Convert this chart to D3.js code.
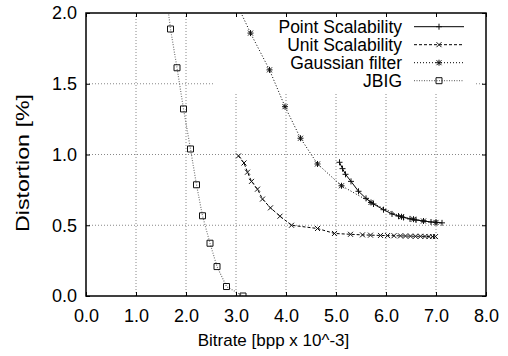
<!DOCTYPE html>
<html>
<head>
<meta charset="utf-8">
<script src="https://cdn.jsdelivr.net/npm/d3@7/dist/d3.min.js"></script>
<style>
  html, body { margin: 0; padding: 0; background: #fff; }
  svg { display: block; font-family: "Liberation Sans", Arial, Helvetica, sans-serif; }
</style>
</head>
<body>
<div id="chart"></div>
<script>
// ── Data ──────────────────────────────────────────────────────────────────────
const xTicks = [0, 1, 2, 3, 4, 5, 6, 7, 8];
const yTicks = [0, 0.5, 1, 1.5, 2];

const seriesNames = ['Point Scalability', 'Unit Scalability', 'Gaussian filter', 'JBIG'];

const pointScal = [
  [5.07, 0.945], [5.13, 0.90], [5.19, 0.86], [5.30, 0.81], [5.45, 0.74],
  [5.60, 0.69], [5.75, 0.65], [5.95, 0.61], [6.12, 0.58], [6.25, 0.565],
  [6.35, 0.555], [6.48, 0.545], [6.60, 0.537], [6.75, 0.53], [6.90, 0.523],
  [7.00, 0.52], [7.12, 0.517]
];

const unitScal = [
  [3.05, 0.99], [3.16, 0.94], [3.23, 0.875], [3.31, 0.81], [3.43, 0.755],
  [3.53, 0.685], [3.69, 0.623], [3.88, 0.564], [4.11, 0.50], [4.63, 0.477],
  [4.97, 0.442], [5.29, 0.436], [5.53, 0.432], [5.69, 0.43], [5.89, 0.428],
  [6.03, 0.427], [6.16, 0.426], [6.29, 0.425], [6.39, 0.424], [6.49, 0.423],
  [6.59, 0.422], [6.69, 0.422], [6.78, 0.421], [6.86, 0.42], [6.93, 0.42],
  [6.99, 0.42]
];

const gaussian = [
  [2.97, 2.10], [3.29, 1.858], [3.67, 1.598], [3.98, 1.338], [4.29, 1.115],
  [4.63, 0.933], [5.11, 0.779], [5.70, 0.661], [6.31, 0.56], [6.55, 0.543],
  [6.75, 0.53], [7.00, 0.52]
];

const jbig = [
  [1.58, 2.20], [1.69, 1.887], [1.82, 1.613], [1.95, 1.322], [2.09, 1.039],
  [2.21, 0.786], [2.33, 0.567], [2.48, 0.373], [2.62, 0.208], [2.81, 0.067],
  [3.14, 0.0]
];

// ── Layout ────────────────────────────────────────────────────────────────────
const W = 508, H = 356;
const M = { top: 13, right: 22, bottom: 60, left: 86 };
const iw = W - M.left - M.right;
const ih = H - M.top - M.bottom;

const x = d3.scaleLinear().domain([0, 8]).range([0, iw]);
const y = d3.scaleLinear().domain([0, 2]).range([ih, 0]);

const svg = d3.select('#chart').append('svg').attr('width', W).attr('height', H);
const g = svg.append('g').attr('transform', `translate(${M.left},${M.top})`);

svg.append('defs').append('clipPath').attr('id', 'plot-clip')
  .append('rect').attr('width', iw).attr('height', ih);

// ── Grid ──────────────────────────────────────────────────────────────────────
const grid = g.append('g').attr('stroke', '#888').attr('stroke-width', 1)
  .attr('stroke-dasharray', '1,2');
grid.selectAll('.gx').data(xTicks.slice(1, -1)).join('line')
  .attr('x1', d => x(d)).attr('x2', d => x(d)).attr('y1', 0).attr('y2', ih);
grid.selectAll('.gy').data(yTicks.slice(1, -1)).join('line')
  .attr('y1', d => y(d)).attr('y2', d => y(d)).attr('x1', 0).attr('x2', iw);

// legend box hides the grid behind it
g.append('rect')
  .attr('x', 128).attr('y', 0).attr('width', 262).attr('height', 80)
  .attr('fill', '#fff');

// ── Series ────────────────────────────────────────────────────────────────────
const markers = {
  plus:   'M-3,0H3M0,-3V3',
  cross:  'M-2.5,-2.5L2.5,2.5M-2.5,2.5L2.5,-2.5',
  star:   'M-3,0H3M0,-3V3M-2.5,-2.5L2.5,2.5M-2.5,2.5L2.5,-2.5',
  square: 'M-3,-3H3V3H-3Z'
};

const series = [
  { name: seriesNames[0], data: pointScal, stroke: '#000', dash: null,    width: 1,   marker: 'plus' },
  { name: seriesNames[1], data: unitScal,  stroke: '#000', dash: '3,2',   width: 1,   marker: 'cross' },
  { name: seriesNames[2], data: gaussian,  stroke: '#000', dash: '1,2',   width: 1,   marker: 'star' },
  { name: seriesNames[3], data: jbig,      stroke: '#777', dash: '1,1.5', width: 1.2, marker: 'square' }
];

const line = d3.line().x(d => x(d[0])).y(d => y(d[1]));
const plot = g.append('g').attr('clip-path', 'url(#plot-clip)');

series.slice().reverse().forEach(s => {
  plot.append('path').datum(s.data)
    .attr('d', line).attr('fill', 'none')
    .attr('stroke', s.stroke).attr('stroke-width', s.width)
    .attr('stroke-dasharray', s.dash);
  plot.selectAll(null).data(s.data).join('path')
    .attr('transform', d => `translate(${x(d[0])},${y(d[1])})`)
    .attr('d', markers[s.marker])
    .attr('fill', 'none').attr('stroke', '#111').attr('stroke-width', 1);
});

// ── Axes + frame ──────────────────────────────────────────────────────────────
const fmt = d3.format('.1f');
const styleAxis = a => {
  a.select('.domain').remove();
  a.selectAll('line').attr('stroke', '#000').attr('stroke-width', 1);
  a.selectAll('text').attr('fill', '#000').attr('font-size', 18)
    .attr('font-family', '"Liberation Sans", Arial, Helvetica, sans-serif');
};

g.append('g').attr('transform', `translate(0,${ih})`)
  .call(d3.axisBottom(x).tickValues(xTicks).tickSize(-4).tickPadding(13).tickFormat(fmt))
  .call(styleAxis);
g.append('g')
  .call(d3.axisLeft(y).tickValues(yTicks).tickSize(-4).tickPadding(9).tickFormat(fmt))
  .call(styleAxis);
g.append('g')
  .call(d3.axisTop(x).tickValues(xTicks).tickSize(-4).tickFormat(''))
  .call(styleAxis);
g.append('g').attr('transform', `translate(${iw},0)`)
  .call(d3.axisRight(y).tickValues(yTicks).tickSize(-4).tickFormat(''))
  .call(styleAxis);

g.append('rect').attr('width', iw).attr('height', ih)
  .attr('fill', 'none').attr('stroke', '#000').attr('stroke-width', 1.5);

// ── Legend ────────────────────────────────────────────────────────────────────
const legend = g.append('g');
series.forEach((s, i) => {
  const ly = 13.7 + i * 18;
  legend.append('text')
    .attr('x', 316).attr('y', ly).attr('dy', '0.36em')
    .attr('text-anchor', 'end').attr('font-size', 17.5).attr('fill', '#000')
    .text(s.name);
  legend.append('line')
    .attr('x1', 328).attr('x2', 378).attr('y1', ly).attr('y2', ly)
    .attr('stroke', s.stroke).attr('stroke-width', s.width)
    .attr('stroke-dasharray', s.dash);
  legend.append('path')
    .attr('transform', `translate(353,${ly})`)
    .attr('d', markers[s.marker])
    .attr('fill', 'none').attr('stroke', '#111');
});

// ── Axis titles ───────────────────────────────────────────────────────────────
svg.append('text')
  .attr('x', 273.5).attr('y', 346)
  .attr('text-anchor', 'middle').attr('font-size', 17)
  .text('Bitrate [bpp x 10^-3]');

svg.append('text')
  .attr('transform', 'translate(29,163) rotate(-90)')
  .attr('text-anchor', 'middle').attr('font-size', 18)
  .attr('textLength', 138).attr('lengthAdjust', 'spacingAndGlyphs')
  .text('Distortion [%]');
</script>
</body>
</html>
